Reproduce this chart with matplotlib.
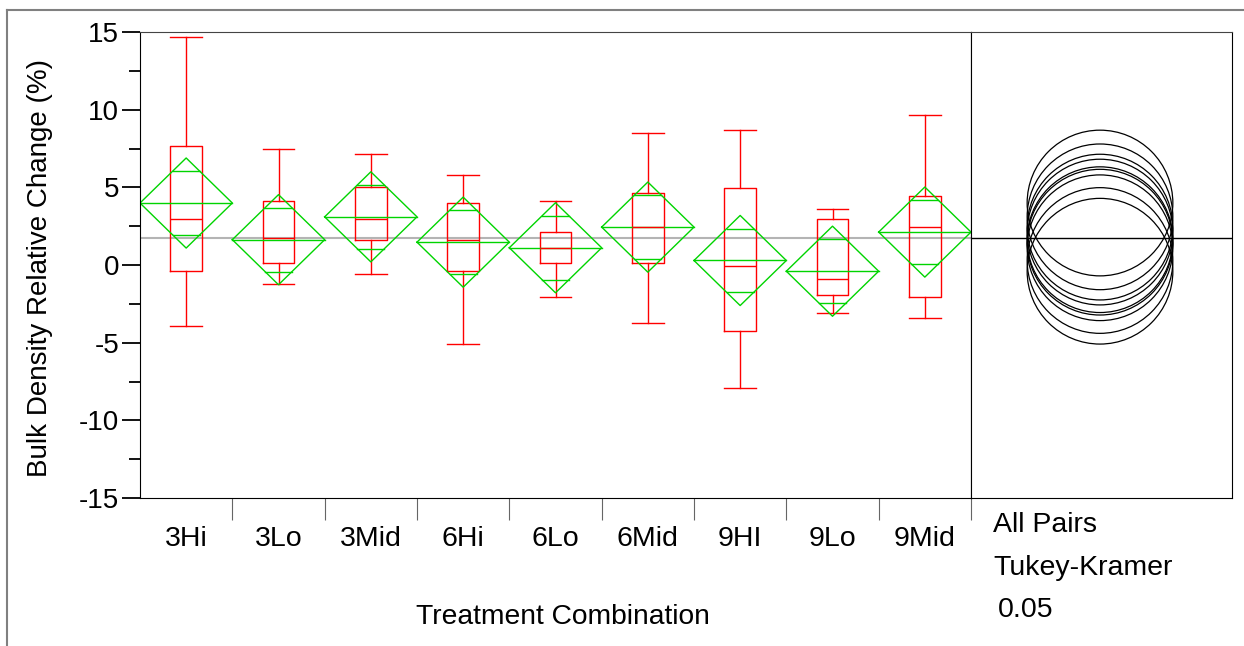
import matplotlib
matplotlib.use("Agg")
import matplotlib.pyplot as plt
from matplotlib.patches import Circle
from matplotlib.lines import Line2D
import numpy as np

plt.rcParams["font.family"] = ["Liberation Sans", "DejaVu Sans"]
plt.rcParams["axes.unicode_minus"] = False

# values
groups = ["3Hi", "3Lo", "3Mid", "6Hi", "6Lo", "6Mid", "9HI", "9Lo", "9Mid"]
whis_hi = [14.7, 7.5, 7.15, 5.82, 4.14, 8.48, 8.66, 3.62, 9.65]
q3 = [7.65, 4.14, 5.0, 3.97, 2.14, 4.63, 4.98, 2.94, 4.46]
median = [2.94, 1.77, 2.96, 1.63, 1.11, 2.44, -0.05, -0.89, 2.44]
q1 = [-0.37, 0.12, 1.63, -0.4, 0.1, 0.1, -4.25, -1.92, -2.08]
whis_lo = [-3.9, -1.24, -0.57, -5.06, -2.05, -3.75, -7.95, -3.08, -3.41]
means = [3.99, 1.63, 3.1, 1.47, 1.11, 2.44, 0.29, -0.4, 2.12]
ci_half = [2.9, 2.9, 2.9, 2.9, 2.9, 2.9, 2.9, 2.9, 2.9]
grand_mean = 1.77
tukey_radius = 4.69

RED = "#ff0000"
GREEN = "#00d400"

W, H = 1244, 646
fig = plt.figure(figsize=(W / 100, H / 100), dpi=100)


def fx(px):
    return px / W


def fy(py):
    return 1 - py / H


left, mid, right, top, bottom = 140, 971, 1232, 32, 498
ax = fig.add_axes([fx(left), fy(bottom), fx(mid - left), (bottom - top) / H])
ax2 = fig.add_axes([fx(mid), fy(bottom), fx(right - mid), (bottom - top) / H], sharey=ax)

ax.set_xlim(0, len(groups))
ax.set_ylim(-15, 15)

# grand mean
ax.axhline(grand_mean, color="#b4b4b4", lw=1.5, zorder=0)

# box plots
pos = np.arange(len(groups)) + 0.5
stats = []
for i in range(len(groups)):
    stats.append(dict(med=median[i], q1=q1[i], q3=q3[i],
                      whislo=whis_lo[i], whishi=whis_hi[i], label=groups[i]))
line = dict(color=RED, lw=1.0)
ax.bxp(stats, positions=pos, widths=0.34, capwidths=0.34, showfliers=False,
       boxprops=line, whiskerprops=line, capprops=line, medianprops=line,
       manage_ticks=False)

# means diamonds with overlap marks
for i, (m, h) in enumerate(zip(means, ci_half)):
    ax.plot([i, i + 0.5, i + 1, i + 0.5, i], [m, m + h, m, m - h, m], color=GREEN, lw=1.0)
    ax.plot([i, i + 1], [m, m], color=GREEN, lw=1.0)
    d = h / np.sqrt(2)
    hw = 0.5 * (1 - d / h)
    for yy in (m + d, m - d):
        ax.plot([i + 0.5 - hw, i + 0.5 + hw], [yy, yy], color=GREEN, lw=1.0)

# axes styling
ax.set_yticks(np.arange(-15, 16, 5))
ax.set_yticks(np.arange(-12.5, 15, 5), minor=True)
ax.tick_params(axis="y", which="major", length=13, width=1.3, labelsize=20, pad=2)
ax.tick_params(axis="y", which="minor", length=8, width=1.3)
ax.set_xticks(pos)
ax.set_xticklabels(groups)
ax.set_xticks(np.arange(1, len(groups) + 1), minor=True)
ax.tick_params(axis="x", which="major", length=0, labelsize=20.5, pad=20)
ax.tick_params(axis="x", which="minor", length=16, width=0.8, color="#666666")
ax.spines["top"].set_color("#444444")
ax.spines["right"].set_color("black")

# comparison circles panel
span = 30 * (right - mid) / (bottom - top)
ax2.set_xlim(0, span)
cx = span * (1100 - mid) / (right - mid)
ax2.axhline(grand_mean, color="black", lw=1.0)
for m in means:
    ax2.add_patch(Circle((cx, m), tukey_radius, fill=False, edgecolor="black", lw=0.9))
ax2.tick_params(axis="y", which="both", left=False, labelleft=False)
ax2.set_xticks([])
ax2.spines["top"].set_color("#444444")

# texts
fig.text(fx(40), fy(268), "Bulk Density Relative Change (%)", rotation=90,
         ha="center", va="center", fontsize=20)
fig.text(fx(563), fy(617), "Treatment Combination", ha="center", va="center", fontsize=20.3)
fig.text(fx(993), fy(525), "All Pairs", ha="left", va="center", fontsize=20.5)
fig.text(fx(993), fy(568), "Tukey-Kramer", ha="left", va="center", fontsize=20.5)
fig.text(fx(998), fy(610), "0.05", ha="left", va="center", fontsize=20.5)

# outer frame
fig.add_artist(Line2D([fx(7), fx(7)], [0, fy(10)], color="#808080", lw=1.5))
fig.add_artist(Line2D([fx(7), 1], [fy(10), fy(10)], color="#808080", lw=1.5))

fig.savefig("out.png", dpi=100)
